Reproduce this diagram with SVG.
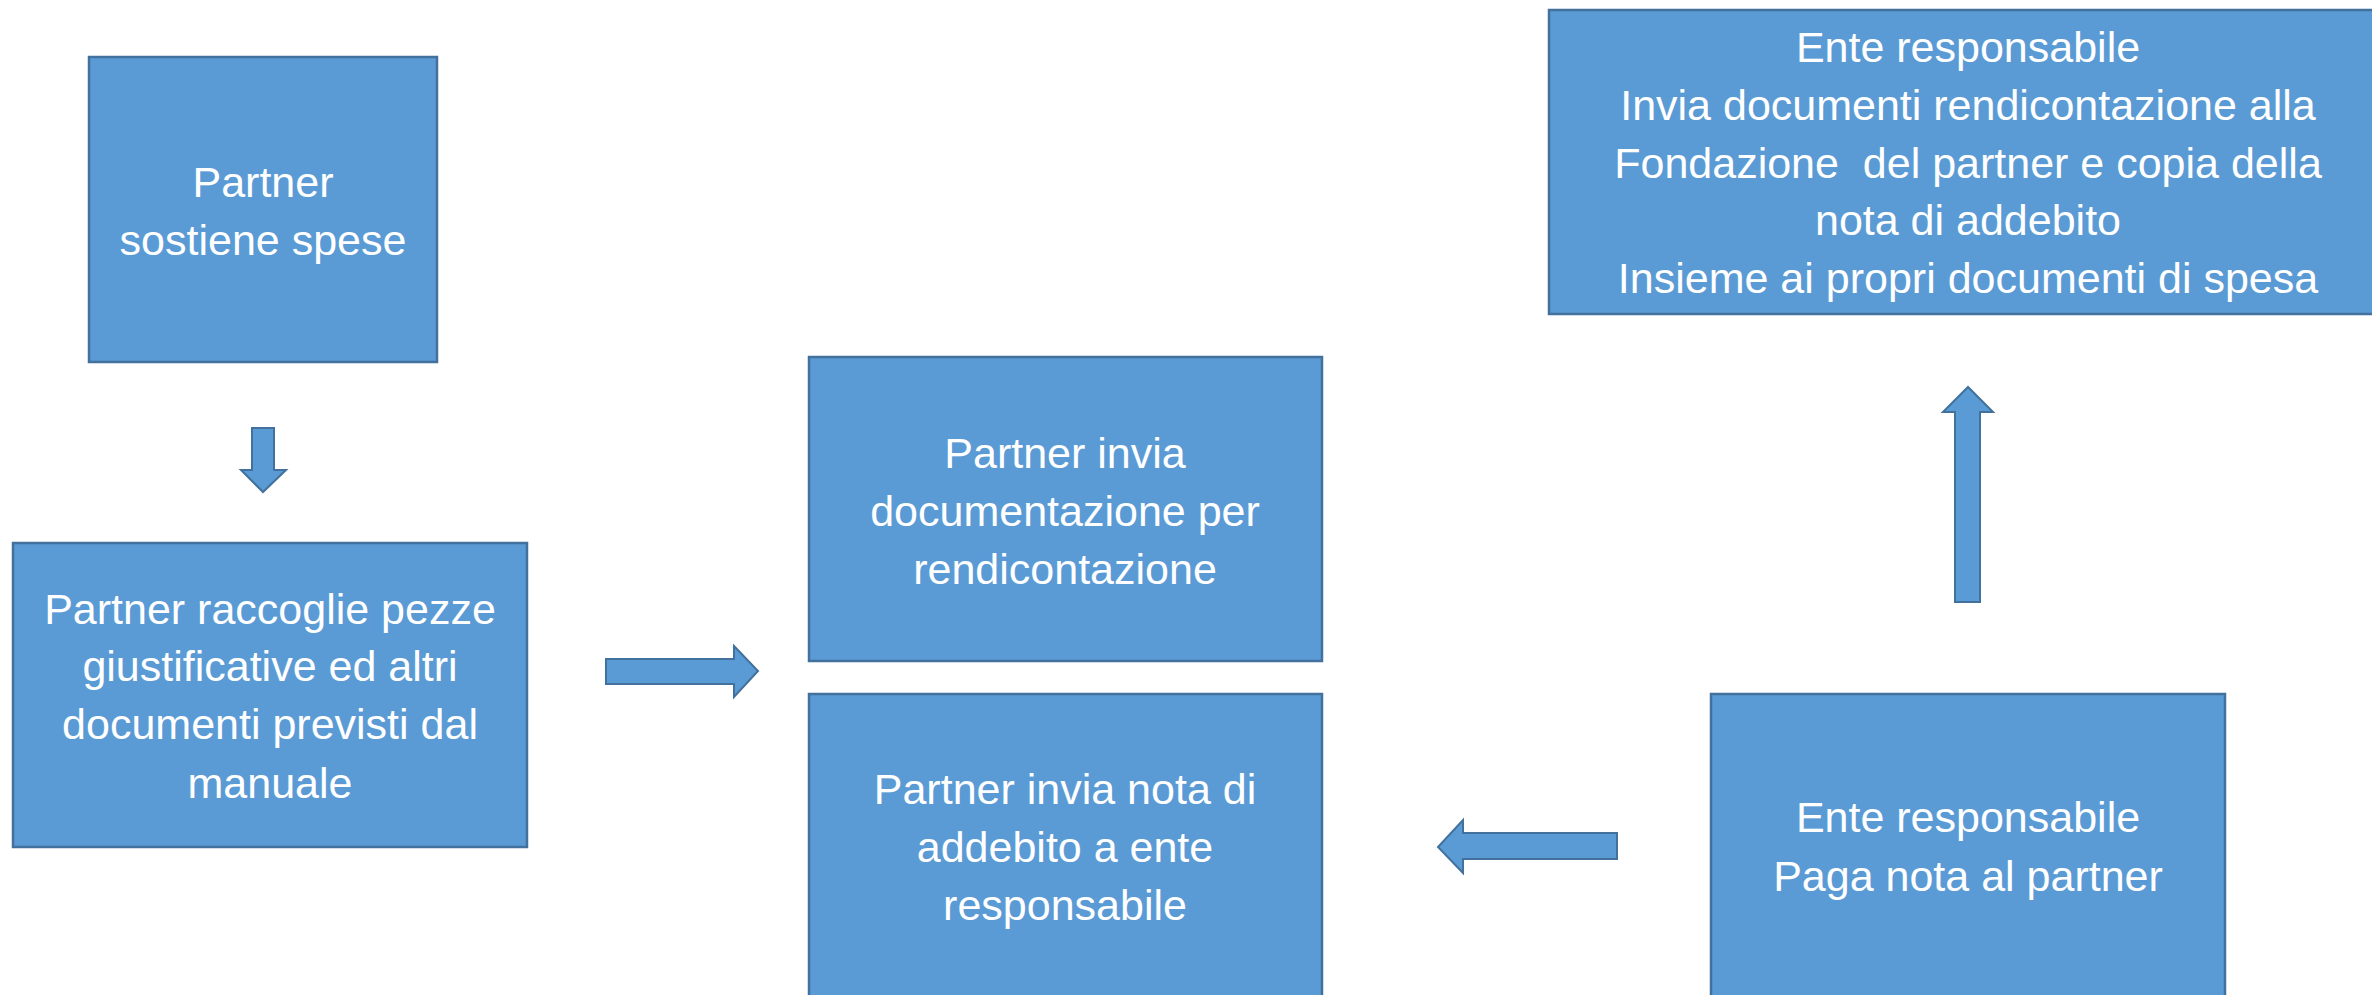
<svg xmlns="http://www.w3.org/2000/svg" width="2372" height="995" viewBox="0 0 2372 995">
<style>
.box{fill:#5B9BD5;stroke:#41719C;stroke-width:2.5}
.arr{fill:#5B9BD5;stroke:#41719C;stroke-width:2}
.t{font-family:"Liberation Sans",Arial,sans-serif;font-size:43px;fill:#FFFFFF;text-anchor:middle;white-space:pre}
</style>
<rect width="2372" height="995" fill="#FFFFFF"/>
<g id="connectors">
<polygon class="arr" points="252,428 274,428 274,470 286,470 263,492 241,470 252,470"/>
<polygon class="arr" points="606,659 734,659 734,646 758,671 734,697 734,684 606,684"/>
<polygon class="arr" points="1617,833 1463,833 1463,820 1438,847 1463,873 1463,859 1617,859"/>
<polygon class="arr" points="1955,602 1955,412 1943,412 1968,387 1993,412 1980,412 1980,602"/>
</g>
<g id="n1">
<rect class="box" x="89" y="57" width="348" height="305"/>
<text class="t" x="263" y="197">Partner</text>
<text class="t" x="263" y="255">sostiene spese</text>
</g>
<g id="n2">
<rect class="box" x="13" y="543" width="514" height="304"/>
<text class="t" x="270" y="624">Partner raccoglie pezze</text>
<text class="t" x="270" y="681">giustificative ed altri</text>
<text class="t" x="270" y="739">documenti previsti dal</text>
<text class="t" x="270" y="798">manuale</text>
</g>
<g id="n3">
<rect class="box" x="809" y="357" width="513" height="304"/>
<text class="t" x="1065" y="468">Partner invia</text>
<text class="t" x="1065" y="526">documentazione per</text>
<text class="t" x="1065" y="584">rendicontazione</text>
</g>
<g id="n4">
<rect class="box" x="809" y="694" width="513" height="320"/>
<text class="t" x="1065" y="804">Partner invia nota di</text>
<text class="t" x="1065" y="862">addebito a ente</text>
<text class="t" x="1065" y="920">responsabile</text>
</g>
<g id="n5">
<rect class="box" x="1549" y="10" width="840" height="304"/>
<text class="t" x="1968" y="62">Ente responsabile</text>
<text class="t" x="1968" y="120">Invia documenti rendicontazione alla</text>
<text class="t" x="1968" y="178">Fondazione  del partner e copia della</text>
<text class="t" x="1968" y="235">nota di addebito</text>
<text class="t" x="1968" y="293">Insieme ai propri documenti di spesa</text>
</g>
<g id="n6">
<rect class="box" x="1711" y="694" width="514" height="320"/>
<text class="t" x="1968" y="832">Ente responsabile</text>
<text class="t" x="1968" y="891">Paga nota al partner</text>
</g>
</svg>
